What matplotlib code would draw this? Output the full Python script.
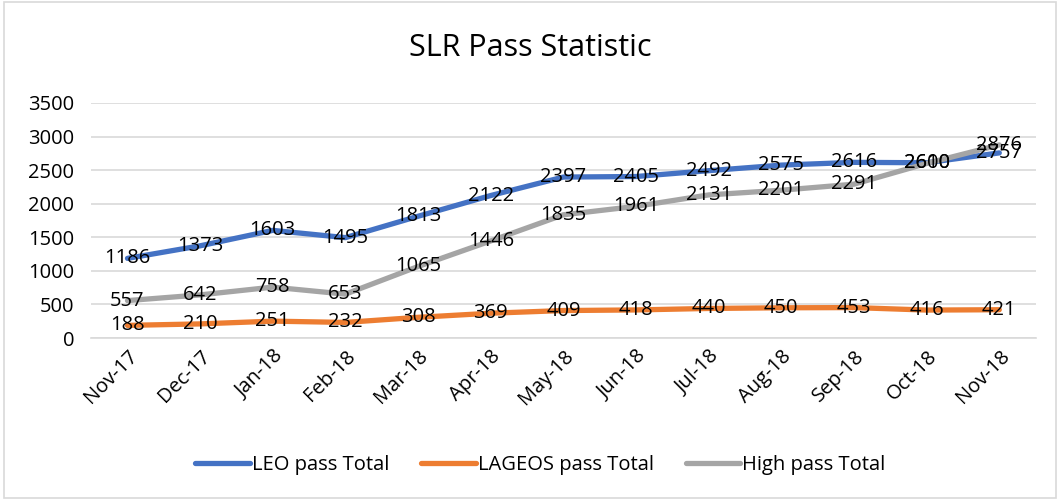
import matplotlib.pyplot as plt
from matplotlib.patches import Rectangle

plt.rcParams['font.family'] = ['Open Sans', 'DejaVu Sans']

months = ['Nov-17', 'Dec-17', 'Jan-18', 'Feb-18', 'Mar-18', 'Apr-18', 'May-18',
          'Jun-18', 'Jul-18', 'Aug-18', 'Sep-18', 'Oct-18', 'Nov-18']
leo = [1186, 1373, 1603, 1495, 1813, 2122, 2397, 2405, 2492, 2575, 2616, 2610, 2757]
lageos = [188, 210, 251, 232, 308, 369, 409, 418, 440, 450, 453, 416, 421]
high = [557, 642, 758, 653, 1065, 1446, 1835, 1961, 2131, 2201, 2291, 2600, 2876]

series = [
    ('LEO pass Total', leo, '#4472C4'),
    ('LAGEOS pass Total', lageos, '#ED7D31'),
    ('High pass Total', high, '#A5A5A5'),
]

fig = plt.figure(figsize=(10.6, 5.0), dpi=100)
fig.patches.append(Rectangle((0.004, 0.004), 0.992, 0.992, transform=fig.transFigure,
                             fill=False, edgecolor='#D9D9D9', linewidth=1.2))
ax = fig.add_axes([0.086, 0.324, 0.891, 0.47])

x = list(range(len(months)))
for name, vals, color in series:
    ax.plot(x, vals, color=color, linewidth=3.8, label=name, solid_capstyle='round', zorder=3)
for name, vals, color in series:
    for xi, v in zip(x, vals):
        ax.text(xi, v, str(v), ha='center', va='center', fontsize=14.5, color='black', zorder=5)

ax.set_xlim(-0.5, len(months) - 0.5)
ax.set_ylim(0, 3500)
ax.set_yticks(range(0, 3501, 500))
ax.set_xticks(x)
ax.set_xticklabels(months, rotation=45, ha='right', rotation_mode='anchor', fontsize=14.5)
ax.tick_params(axis='y', labelsize=14.5, length=0, pad=12)
ax.tick_params(axis='x', length=0, pad=6)
ax.grid(axis='y', color='#D9D9D9', linewidth=1.2, zorder=0)
ax.set_axisbelow(True)
for s in ['top', 'right', 'left']:
    ax.spines[s].set_visible(False)
ax.spines['bottom'].set_color('#D9D9D9')
ax.spines['bottom'].set_linewidth(1.2)

fig.text(0.5, 0.905, 'SLR Pass Statistic', ha='center', va='center', fontsize=22)
fig.legend(loc='center', bbox_to_anchor=(0.51, 0.07), ncol=3, frameon=False, fontsize=14.5,
           handlelength=2.7, handletextpad=0.1, columnspacing=1.6)

fig.savefig('out.png', dpi=100)
